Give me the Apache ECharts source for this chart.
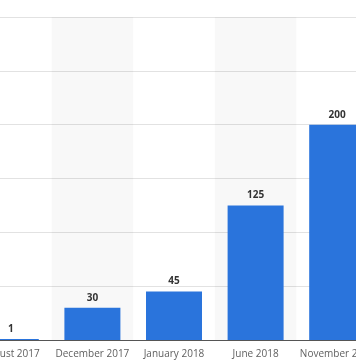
<!DOCTYPE html>
<html>
<head>
<meta charset="utf-8">
<script src="https://cdn.jsdelivr.net/npm/echarts@6/dist/echarts.min.js"></script>
<style>
html,body{margin:0;padding:0;background:#fff;overflow:hidden;width:356px;height:364px;position:relative;}
#chart{position:absolute;left:-30px;top:0;width:408px;height:364px;}
</style>
</head>
<body>
<div id="chart"></div>
<script>
const categories = ['August 2017', 'December 2017', 'January 2018', 'June 2018', 'November 2018'];
const values = [1, 30, 45, 125, 200];
const yMin = 0;
const yMax = 300;
const yInterval = 50;

const chart = echarts.init(document.getElementById('chart'), null, {renderer: 'canvas'});
chart.setOption({
  animation: false,
  backgroundColor: '#ffffff',
  grid: {left: 0, right: 0, top: 17, bottom: 24, containLabel: false},
  xAxis: {
    type: 'category',
    data: categories,
    axisLine: {show: true, lineStyle: {color: '#555555', width: 1}},
    axisTick: {show: false},
    axisLabel: {interval: 0, color: '#606060', fontFamily: 'Open Sans', fontSize: 10, margin: 9},
    splitArea: {show: true, areaStyle: {color: ['rgba(0,0,0,0)', 'rgba(0,0,0,0.028)']}}
  },
  yAxis: {
    type: 'value',
    min: yMin, max: yMax, interval: yInterval,
    axisLabel: {show: false},
    axisLine: {show: false},
    axisTick: {show: false},
    splitLine: {show: true, lineStyle: {color: '#e2e2e2', width: 1}}
  },
  series: [{
    type: 'bar',
    data: values,
    barWidth: 56,
    itemStyle: {color: '#2a74dc'},
    label: {show: true, position: 'top', distance: 5, color: '#333333', fontFamily: 'Open Sans', fontSize: 10, fontWeight: 'bold'}
  }]
});
</script>
</body>
</html>
